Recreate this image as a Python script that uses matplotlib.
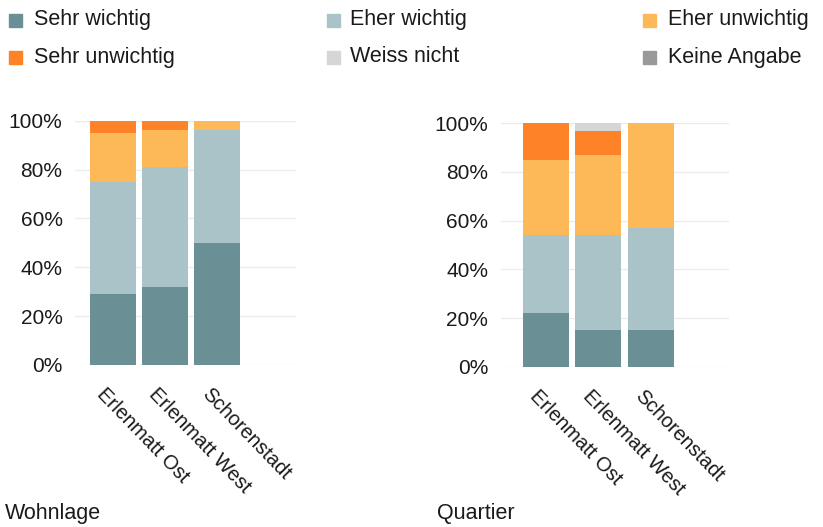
import numpy as np
import matplotlib.pyplot as plt
import matplotlib.transforms as mtransforms
from matplotlib.patches import Rectangle

plt.rcParams['font.family'] = ['Liberation Sans', 'DejaVu Sans']

# categories and answer levels
areas = ['Erlenmatt Ost', 'Erlenmatt West', 'Schorenstadt']
levels = ['Sehr wichtig', 'Eher wichtig', 'Eher unwichtig',
          'Sehr unwichtig', 'Weiss nicht', 'Keine Angabe']
colors = ['#6a9096', '#a9c3c9', '#fdb858', '#fd8228', '#d6d6d6', '#999999']

# shares in percent, one list per level (order of areas)
wohnlage = {
    'Sehr wichtig':   [29, 32, 50],
    'Eher wichtig':   [46, 49, 46],
    'Eher unwichtig': [20, 15, 4],
    'Sehr unwichtig': [5, 4, 0],
    'Weiss nicht':    [0, 0, 0],
    'Keine Angabe':   [0, 0, 0],
}
quartier = {
    'Sehr wichtig':   [22, 15, 15],
    'Eher wichtig':   [32, 39, 42],
    'Eher unwichtig': [31, 33, 43],
    'Sehr unwichtig': [15, 10, 0],
    'Weiss nicht':    [0, 3, 0],
    'Keine Angabe':   [0, 0, 0],
}

fig = plt.figure(figsize=(8.23, 5.27), dpi=100)


def stacked(ax, data, xmin):
    x = np.arange(len(areas))
    bottom = np.zeros(len(areas))
    for lev, col in zip(levels, colors):
        vals = np.array(data[lev]) / 100
        ax.bar(x, vals, bottom=bottom, width=0.88, color=col, zorder=2)
        bottom += vals
    ax.set_xlim(xmin, 3.5)
    ax.set_ylim(0, 1.0)
    ax.set_yticks([0, 0.2, 0.4, 0.6, 0.8, 1.0])
    ax.set_yticklabels(['0%', '20%', '40%', '60%', '80%', '100%'])
    ax.yaxis.grid(True, color='#ececec', linewidth=1, zorder=0)
    ax.set_axisbelow(True)
    for s in ax.spines.values():
        s.set_visible(False)
    ax.tick_params(axis='y', length=0, labelsize=15, labelcolor='#1a1a1a', pad=9)
    ax.set_xticks(x)
    ax.set_xticklabels(areas, rotation=-46, ha='left', va='top',
                       rotation_mode='anchor', fontsize=14.5, color='#1a1a1a')
    ax.tick_params(axis='x', length=0, pad=14)
    # move the labels so they start near the bar centre
    off = mtransforms.ScaledTranslation(-6 / 100, 0, fig.dpi_scale_trans)
    for lbl in ax.get_xticklabels():
        lbl.set_transform(lbl.get_transform() + off)


ax1 = fig.add_axes([75 / 823, 1 - 365 / 527, 221 / 823, 244.3 / 527])
stacked(ax1, wohnlage, -0.72)
ax2 = fig.add_axes([500.7 / 823, 1 - 366.7 / 527, 228.3 / 823, 243.4 / 527])
stacked(ax2, quartier, -0.87)

# legend in three columns
marker_x = [9, 327, 643]
text_x = [34, 350, 668]
row_y = [20, 57]
order = [[0, 3], [1, 4], [2, 5]]
for c in range(3):
    for r in range(2):
        i = order[c][r]
        fig.patches.append(Rectangle((marker_x[c] / 823, 1 - (row_y[r] + 6.5) / 527),
                                     13 / 823, 13 / 527, transform=fig.transFigure,
                                     color=colors[i], figure=fig))
        fig.text(text_x[c] / 823, 1 - row_y[r] / 527, levels[i], fontsize=15.5,
                 color='#1a1a1a', va='center', ha='left')

fig.text(5 / 823, 1 - 513 / 527, 'Wohnlage', fontsize=15.5, color='#1a1a1a', va='center')
fig.text(437 / 823, 1 - 513 / 527, 'Quartier', fontsize=15.5, color='#1a1a1a', va='center')

plt.savefig('out.png', dpi=100)
